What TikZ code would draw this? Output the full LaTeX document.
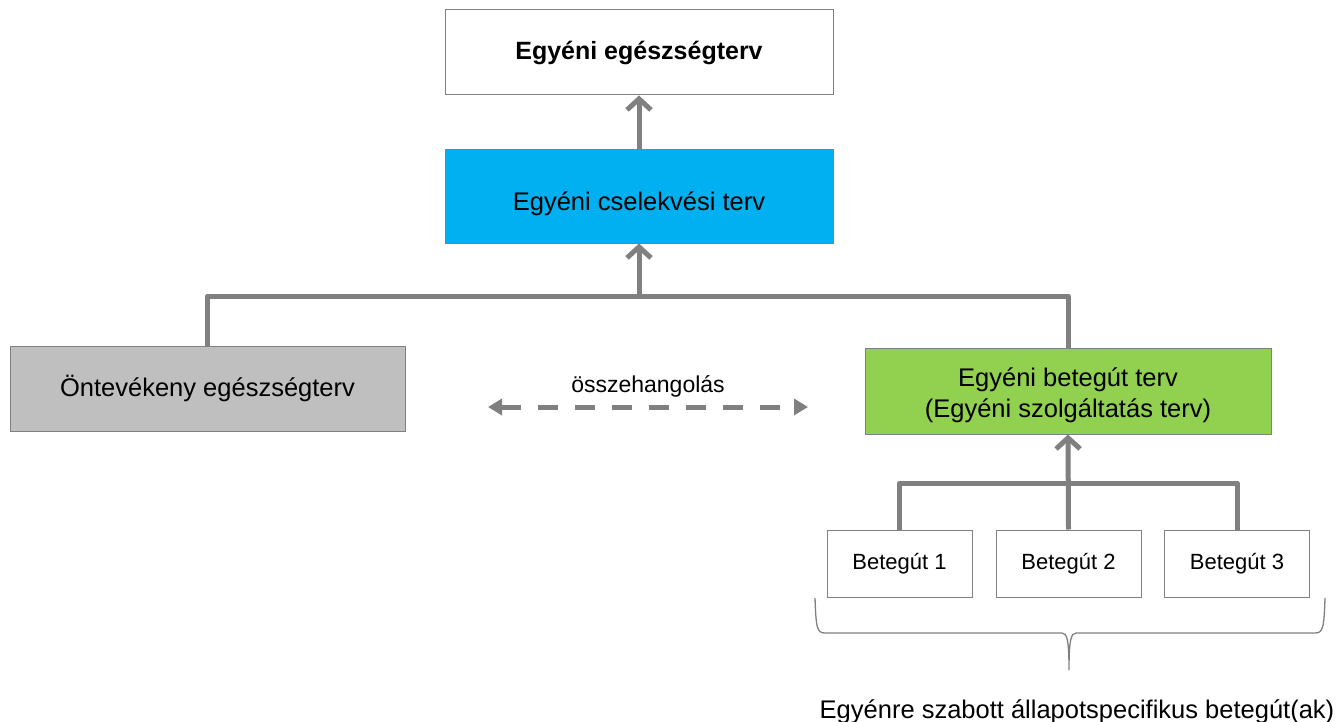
\documentclass[tikz,border=0pt]{standalone}
\usepackage{fontspec}
\setmainfont{Liberation Sans}
\usetikzlibrary{arrows.meta,positioning,calc}
\definecolor{planblue}{HTML}{00B0F0}
\definecolor{plangreen}{HTML}{92D050}
\definecolor{plangray}{HTML}{BFBFBF}
\definecolor{linegray}{HTML}{808080}
\tikzset{
  plan/.style={rectangle,draw=linegray,line width=1pt,align=center,font=\fontsize{25.5}{31}\selectfont},
  subpath/.style={rectangle,draw=linegray,line width=1pt,minimum width=145pt,minimum height=67pt,font=\fontsize{22}{26}\selectfont},
  link/.style={draw=linegray,line width=5pt,line join=round},
  uparrow/.style={link,-{Straight Barb[length=11pt,width=24pt]}},
}
\begin{document}
\begin{tikzpicture}[x=1pt,y=-1pt]
\useasboundingbox (0,0) rectangle (1338,722);
% Plans
\node[plan,minimum width=388pt,minimum height=85pt,fill=white,font=\fontsize{25}{31}\selectfont\bfseries] (health) at (639,52.5) {Egyéni egészségterv};
\node[plan,minimum width=388pt,minimum height=93pt,fill=planblue] (action) at (639,196.5) {\rule{0pt}{33pt}Egyéni cselekvési terv};
\node[plan,minimum width=395pt,minimum height=85pt,fill=plangray] (selfplan) at (207.5,388.5) {Öntevékeny egészségterv};
\node[plan,minimum width=406pt,minimum height=86pt,fill=plangreen] (pathplan) at (1068,391) {\rule{0pt}{1.05em}Egyéni betegút terv\\(Egyéni szolgáltatás terv)};

% Patient pathways
\node[subpath] (path1) at (899.5,563.5) {Betegút 1};
\node[subpath] (path2) at (1068.5,563.5) {Betegút 2};
\node[subpath] (path3) at (1237,563.5) {Betegút 3};

% Tree connectors
\coordinate (jtop) at (639,296);
\coordinate (jbot) at (1068.5,483);
\draw[link] (selfplan.north) |- (jtop) -| (pathplan.north);
\draw[uparrow] (jtop) -- (action.south);
\draw[uparrow] (action.north) -- (health.south);
\draw[link] (path1.north) |- (jbot) -| (path3.north);
\draw[uparrow] (path2.north) -- (pathplan.south);

% Coordination
\coordinate (syncL) at (488,407);
\coordinate (syncR) at (808,407);
\draw[linegray,line width=5pt,dash pattern=on 20pt off 17pt,{Triangle[length=14pt,width=16pt]}-{Triangle[length=14pt,width=16pt]}]
  (syncL) -- node[above=4pt,text=black,font=\fontsize{23}{28}\selectfont] (synclabel) {összehangolás} (syncR);

% Brace
\coordinate (braceL) at (815,598);
\coordinate (braceTip) at (1069,670);
\coordinate (braceR) at (1325,598);
\draw[linegray,line width=1.3pt,line join=round]
  (braceL) .. controls (816,628) and (817,633) .. (825,633) -- (1062,633)
  .. controls (1067,633) and (1069,640) .. (braceTip)
  .. controls (1069,640) and (1071,633) .. (1076,633) -- (1315,633)
  .. controls (1323,633) and (1324,628) .. (braceR);
\node[font=\fontsize{25.5}{30}\selectfont,anchor=base] (pathnote) at (1077,718) {Egyénre szabott állapotspecifikus betegút(ak)};
\end{tikzpicture}
\end{document}
